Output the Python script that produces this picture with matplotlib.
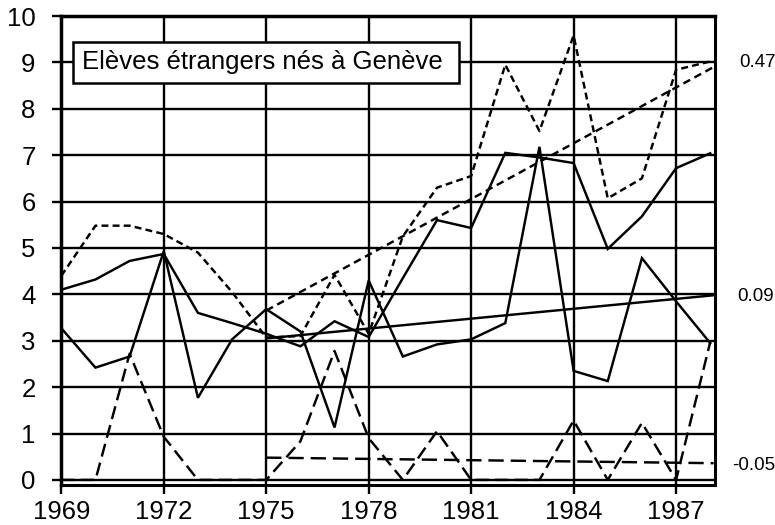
import matplotlib
matplotlib.use("Agg")
import matplotlib.pyplot as plt
from matplotlib.patches import Rectangle

plt.rcParams['font.family'] = ['Liberation Sans', 'DejaVu Sans']
plt.rcParams['lines.scale_dashes'] = False

# ---- data ----
years = list(range(1969, 1989))
series_a = [4.10, 4.32, 4.72, 4.87, 3.60, 3.38, 3.15, 2.88, 3.42, 3.08,
            4.35, 5.60, 5.43, 7.05, 6.95, 6.83, 4.98, 5.68, 6.72, 7.04]
series_b = [3.27, 2.42, 2.66, 4.93, 1.77, 3.03, 3.68, 3.20, 1.13, 4.30,
            2.66, 2.92, 3.03, 3.38, 7.18, 2.35, 2.13, 4.78, 3.85, 2.95]
series_c = [4.40, 5.48, 5.48, 5.30, 4.90, 4.05, 3.07, 3.10, 4.42, 3.15,
            5.25, 6.30, 6.55, 8.95, 7.52, 9.58, 6.07, 6.50, 8.84, 9.02]
series_d = [0.00, 0.00, 2.72, 0.93, 0.00, 0.00, 0.00, 0.83, 2.78, 0.90,
            0.00, 1.05, 0.00, 0.00, 0.00, 1.28, 0.00, 1.23, 0.00, 2.97]

trend_years = [1975, 1988.1]
trend_c = [3.65, 8.90]
trend_ab = [3.05, 3.98]
trend_d = [0.48, 0.36]

slope_labels = ["0.47", "0.09", "-0.05"]
slope_label_y = [9.0, 3.95, 0.32]

xtick_years = [1969, 1972, 1975, 1978, 1981, 1984, 1987]
ytick_vals = list(range(0, 11))
legend_text = "Elèves étrangers nés à Genève"

# ---- figure ----
fig = plt.figure(figsize=(7.75, 5.25), dpi=100)
ax = fig.add_axes([61.3 / 775, 40 / 525, (715 - 61.3) / 775, (485 - 16) / 525])
ax.set_xlim(1969, 1988.14)
ax.set_ylim(-0.11, 10)

lw = 1.75
ax.plot(years, series_a, color='black', lw=lw, solid_joinstyle='miter', zorder=5)
ax.plot(years, series_b, color='black', lw=lw, solid_joinstyle='miter', zorder=5)
ax.plot(years, series_c, color='black', lw=lw, linestyle=(0, (5.0, 3.0)), zorder=5)
ax.plot(years, series_d, color='black', lw=lw, linestyle=(0, (9.5, 4.5)), zorder=5)

ax.plot(trend_years, trend_c, color='black', lw=lw, linestyle=(0, (5.5, 3.5)), zorder=5)
ax.plot(trend_years, trend_ab, color='black', lw=lw, zorder=5)
ax.plot(trend_years, trend_d, color='black', lw=lw, linestyle=(0, (11, 5)), zorder=5, clip_on=False)

ax.set_xticks(xtick_years)
ax.set_xticklabels([str(y) for y in xtick_years])
ax.set_yticks(ytick_vals)
ax.set_yticklabels([str(v) for v in ytick_vals])
ax.grid(True, color='black', lw=1.7)
ax.set_axisbelow(True)

ax.tick_params(axis='both', direction='out', length=6.5, width=1.7,
               labelsize=18.5, color='black')
ax.tick_params(axis='y', pad=12)
ax.tick_params(axis='x', pad=4)

for side in ['left', 'top']:
    ax.spines[side].set_linewidth(2.5)
for side in ['right', 'bottom']:
    ax.spines[side].set_linewidth(2.2)

# legend box
ax.add_patch(Rectangle((1969.35, 8.56), 11.3, 0.88, facecolor='white',
                       edgecolor='black', lw=1.8, zorder=6))
ax.text(1969.6, 9.0, legend_text, fontsize=18.5, va='center', ha='left', zorder=7)

# slope labels on the right
x_offsets = [1.0367, 1.0335, 1.026]
for lab, yv, xo in zip(slope_labels, slope_label_y, x_offsets):
    ax.text(xo, yv, lab, transform=ax.get_yaxis_transform(), fontsize=13.5,
            va='center', ha='left')

fig.savefig("out.png", dpi=100)
